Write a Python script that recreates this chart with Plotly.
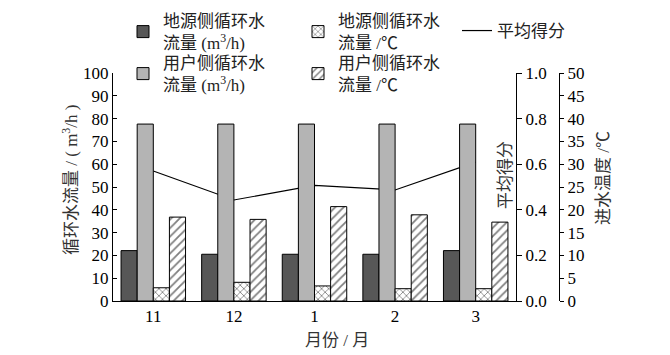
import plotly.graph_objects as go

months = ["11", "12", "1", "2", "3"]
ground_flow = [22.1, 20.5, 20.5, 20.5, 22.1]        # m3/h
user_flow = [77.6, 77.6, 77.6, 77.6, 77.6]          # m3/h
ground_temp = [2.9, 4.1, 3.3, 2.7, 2.7]             # °C
user_temp = [18.4, 17.9, 20.7, 18.9, 17.3]          # °C
avg_score = [0.57, 0.443, 0.507, 0.487, 0.609]

FONT = "Liberation Serif, Noto Sans CJK SC, serif"
W, H = 670, 355
L, R, T, B = 113, 111, 73, 54
PW = W - L - R  # paper width
PH = H - T - B
X_END = (516 - L) / PW

fig = go.Figure()

# line first (bottom layer, main axis y = score)
fig.add_trace(go.Scatter(
    x=months, y=avg_score, mode="lines", name="平均得分",
    line=dict(color="black", width=1.2), yaxis="y", legend="legend3",
))

bw = 0.2
fig.add_trace(go.Bar(
    x=months, y=ground_flow, name="地源侧循环水<br>流量 (m<sup>3</sup>/h)",
    width=bw, offset=-0.4, yaxis="y2", legend="legend",
    marker=dict(color="#575757", line=dict(color="black", width=1)),
))
fig.add_trace(go.Bar(
    x=months, y=user_flow, name="用户侧循环水<br>流量 (m<sup>3</sup>/h)",
    width=bw, offset=-0.2, yaxis="y2", legend="legend4",
    marker=dict(color="#b4b4b4", line=dict(color="black", width=1)),
))
fig.add_trace(go.Bar(
    x=months, y=ground_temp, name="地源侧循环水<br>流量 /℃",
    width=bw, offset=0.0, yaxis="y3", legend="legend2",
    marker=dict(color="white", line=dict(color="black", width=1),
                pattern=dict(shape="x", fgcolor="black", bgcolor="white", size=5, solidity=0.3)),
))
fig.add_trace(go.Bar(
    x=months, y=user_temp, name="用户侧循环水<br>流量 /℃",
    width=bw, offset=0.2, yaxis="y3", legend="legend5",
    marker=dict(color="white", line=dict(color="black", width=1),
                pattern=dict(shape="/", fgcolor="black", bgcolor="white", size=6, solidity=0.3)),
))

tickfont = dict(family=FONT, size=17, color="black")
legfont = dict(family=FONT, size=17, color="#222")


def py(p):
    return (H - B - p) / PH


def px_x(p):
    return (p - L) / PW


def leg(xpix, ypix):
    return dict(x=px_x(xpix), y=py(ypix), xanchor="left", yanchor="top", orientation="v",
                font=legfont, bgcolor="rgba(0,0,0,0)", borderwidth=0,
                tracegroupgap=0, itemwidth=30)


fig.update_layout(
    width=W, height=H,
    margin=dict(l=L, r=R, t=T, b=B, autoexpand=False),
    paper_bgcolor="white", plot_bgcolor="white",
    barmode="overlay",
    font=dict(family=FONT, size=17, color="black"),
    xaxis=dict(type="category", domain=[0, X_END], range=[-0.5, 4.5],
               showline=True, linecolor="black", linewidth=1, ticks="",
               showgrid=False, tickfont=tickfont),
    yaxis=dict(range=[0, 1], side="right", anchor="x", dtick=0.2, tickformat=".1f",
               showline=True, linecolor="black", linewidth=1, ticks="outside",
               ticklen=5, tickcolor="black", showgrid=False, zeroline=False,
               tickfont=tickfont),
    yaxis2=dict(range=[0, 100], side="left", anchor="x", overlaying="y", dtick=10,
                showline=True, linecolor="black", linewidth=1, ticks="inside",
                ticklen=4, tickcolor="black", showgrid=False, zeroline=False,
                tickfont=tickfont),
    yaxis3=dict(range=[0, 50], side="right", anchor="free", position=1.0,
                overlaying="y", dtick=5,
                showline=True, linecolor="black", linewidth=1, ticks="outside",
                ticklen=4, tickcolor="black", showgrid=False, zeroline=False,
                tickfont=tickfont),
    legend=leg(123, 3),
    legend2=leg(298, 3),
    legend3=leg(457, 13),
    legend4=leg(123, 45),
    legend5=leg(298, 45),
    showlegend=True,
)

ann = [
    dict(text="循环水流量 / ( m<sup>3</sup>/h )", x=px_x(70), y=py(180), textangle=-90),
    dict(text="平均得分", x=px_x(505), y=py(175), textangle=-90),
    dict(text="进水温度 /℃", x=px_x(603), y=py(178), textangle=-90),
    dict(text="月份 / 月", x=px_x(337), y=py(340), textangle=0),
]
for a in ann:
    fig.add_annotation(xref="paper", yref="paper", showarrow=False,
                       xanchor="center", yanchor="middle",
                       font=dict(family=FONT, size=17, color="#333"), **a)

fig.write_html("out.html")
